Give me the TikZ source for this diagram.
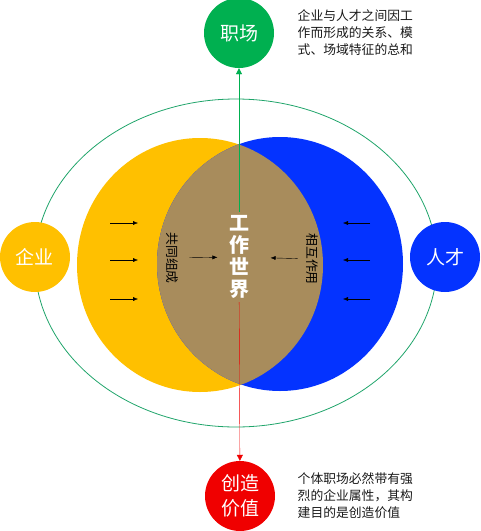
\documentclass[tikz,border=0pt]{standalone}
\usepackage{fontspec}
\newfontfamily\cjk{Noto Sans CJK SC}
\usetikzlibrary{arrows.meta,positioning}
\definecolor{cyellow}{HTML}{FFC000}
\definecolor{cblue}{HTML}{0433FF}
\definecolor{cgreen}{HTML}{00B050}
\definecolor{cred}{HTML}{F00000}
\definecolor{ctan}{HTML}{A88C5C}
\definecolor{cring}{HTML}{1FA46A}

\begin{document}
\begin{tikzpicture}[x=1pt,y=-1pt,
  ball/.style={circle,minimum size=70pt,inner sep=0pt,text=white,align=center,
    font=\cjk\fontsize{19}{24}\selectfont},
  note/.style={align=left,text=black!90,font=\cjk\fontsize{12.8}{17}\selectfont},
  side/.style={font=\cjk\fontsize{12.8}{15}\selectfont,rotate=-90},
  push/.style={-{Latex[length=5pt,width=4pt]},thin}]
   \useasboundingbox (0,0) rectangle (481,531);
   % ring and the two sets
   \draw[cring,line width=0.8pt] (236,263) ellipse [x radius=201,y radius=164];
   \fill[cyellow] (200,265) ellipse [x radius=123,y radius=127];
   \fill[cblue] (280,264) ellipse [x radius=123,y radius=127];
   \begin{scope}
     \clip (200,265) ellipse [x radius=123,y radius=127];
     \fill[ctan] (280,264) ellipse [x radius=123,y radius=127];
   \end{scope}
   \node[ball,fill=cgreen] (zhichang) at (239,33) {职场};
   \node[ball,fill=cyellow] (qiye) at (35,257) {企业};
   \node[ball,fill=cblue] (rencai) at (445,257) {人才};
   \node[ball,fill=cred,font=\cjk\fontsize{19}{25}\selectfont] (chuangzao) at (240,496) {创造\\价值};
   \node[note,right=20pt of zhichang] (n_zc) {企业与人才之间因工\\作而形成的关系、模\\式、场域特征的总和};
   \node[note,right=19pt of chuangzao] (n_cz) {个体职场必然带有强\\烈的企业属性，其构\\建目的是创造价值};
   \node[text=white,align=center,font=\cjk\bfseries\fontsize{20}{22}\selectfont] (world) at (239,257) {工\\作\\世\\界};
   \node[side] (gongtong) at (172,258) {共同组成};
   \node[side] (xianghu) at (312,259) {相互作用};
    \path[thin]
    (world) edge[cgreen,-{Triangle[length=6pt,width=6pt]}] (zhichang)
    (world) edge[cred,-{Triangle[length=6pt,width=6pt]}] (chuangzao);
   \draw[push,shorten <=8pt,shorten >=8pt] (gongtong) -- (world);
   \draw[push,shorten <=5pt,shorten >=18pt] (xianghu) -- (world);
   \foreach \y in {223,260,299} {
     \draw[push] (110,\y) -- (138,\y);
     \draw[push] (370,\y) -- (343,\y);
   }
\end{tikzpicture}
\end{document}
